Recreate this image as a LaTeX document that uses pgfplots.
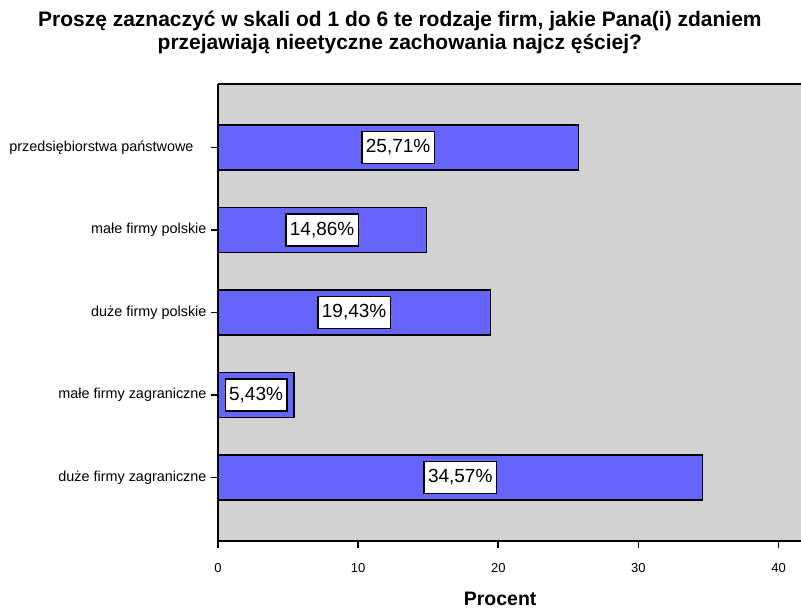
\documentclass[border=0pt]{standalone}
\usepackage{pgfplots}
\pgfplotsset{compat=1.18}
\usepackage{pgfplotstable}
\usepackage{fontspec}
\setmainfont{Liberation Sans}

\definecolor{barblue}{RGB}{102,102,255}
\definecolor{plotgray}{RGB}{210,210,210}

% pos: 4 = top row, 0 = bottom row; v: share in percent
\pgfplotstableread{
pos v
4 25.71
3 14.86
2 19.43
1 5.43
0 34.57
}\firmy

\begin{document}
\begin{tikzpicture}
\begin{axis}[
  scale only axis,
  width=583pt, height=457pt,
  xmin=0, xmax=41.6,
  ymin=-0.77, ymax=4.77,
  axis background/.style={fill=plotgray},
  axis lines*=left,
  axis line style={line width=1.6pt, black},
  xtick={0,10,20,30,40},
  ytick={0,1,2,3,4},
  yticklabels={duże firmy zagraniczne, małe firmy zagraniczne, duże firmy polskie, małe firmy polskie, {przedsiębiorstwa państwowe\rule{13pt}{0pt}}},
  tick align=outside,
  major tick length=7pt,
  tick style={line width=1.6pt, black},
  /pgf/number format/assume math mode=true,
  xticklabel style={font=\fontsize{13}{15}\selectfont, yshift=-12pt},
  yticklabel style={font=\fontsize{14.4}{16}\selectfont, xshift=-1pt},
  xlabel={Procent},
  xlabel style={at={(axis description cs:0.484,0)}, anchor=north, yshift=-51pt, inner sep=0pt, font=\bfseries\fontsize{19.5}{22}\selectfont},
  title={Proszę zaznaczyć w skali od 1 do 6 te rodzaje firm, jakie Pana(i) zdaniem\\przejawiają nieetyczne zachowania najcz ęściej?},
  title style={at={(axis description cs:0.312,1)}, anchor=south, yshift=24pt, inner sep=0pt, align=center, font=\bfseries\fontsize{21}{23}\selectfont},
]
\coordinate (o) at (rel axis cs:0,0);
\draw[line width=1.6pt, black] (rel axis cs:0,1) -- (rel axis cs:1,1);

\addplot[xbar, bar width=0.545, fill=barblue, draw=black, line width=1.2pt]
  table[x=v, y=pos] {\firmy};

\addplot[only marks, mark=none,
  point meta=explicit,
  nodes near coords={\pgfmathprintnumber[fixed, fixed zerofill, precision=2, use comma, assume math mode=true]{\pgfplotspointmeta}\%},
  nodes near coords align=center,
  every node near coord/.append style={anchor=center, fill=white, draw=black, line width=1.2pt, inner xsep=4pt, minimum height=32pt, font=\fontsize{19}{21}\selectfont}]
  table[x expr=\thisrow{v}/2, y=pos, meta=v] {\firmy};
\end{axis}
\pgfresetboundingbox
\path[use as bounding box] (o) ++(-218pt,-68pt) rectangle ++(801pt,609pt);
\end{tikzpicture}
\end{document}
